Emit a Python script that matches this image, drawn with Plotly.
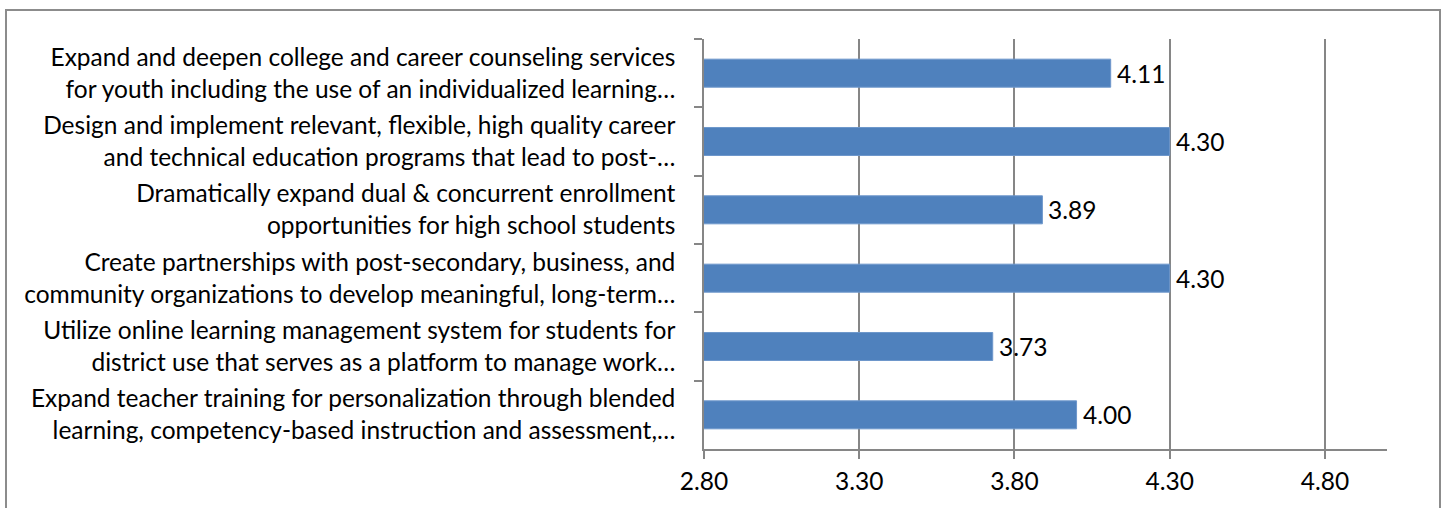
import plotly.graph_objects as go

categories = [
    "Expand and deepen college and career counseling services<br>for youth including the use of an individualized learning…",
    "Design and implement relevant, flexible, high quality career<br>and technical education programs that lead to post-…",
    "Dramatically expand dual & concurrent enrollment<br>opportunities for high school students",
    "Create partnerships with post-secondary, business, and<br>community organizations to develop meaningful, long-term…",
    "Utilize online learning management system for students for<br>district use that serves as a platform to manage work…",
    "Expand teacher training for personalization through blended<br>learning, competency-based instruction and assessment,…",
]
values = [4.11, 4.30, 3.89, 4.30, 3.73, 4.00]
x_range = [2.8, 5.0]
x_tick0 = 2.8
x_dtick = 0.5

W, H = 1447, 508
L, R, T, B = 704, 60, 39, 59
pw, ph = W - L - R, H - T - B

FONT = "Lato"
FS = 24.5
GRID = "#868686"

fig = go.Figure(go.Bar(
    y=categories, x=values, orientation="h",
    marker=dict(color="#4F81BD", line=dict(color="#6E97CB", width=1)),
    cliponaxis=False,
))

for c, v in zip(categories, values):
    fig.add_annotation(x=v, y=c, xref="x", yref="y", text=f"{v:.2f}",
                       showarrow=False, xanchor="left", yanchor="middle",
                       xshift=4, font=dict(family=FONT, size=FS, color="black"))

def px_to_paper_x(px):
    return (px - L) / pw

def px_to_paper_y(py):
    return (H - B - py) / ph

fig.add_shape(type="rect", xref="paper", yref="paper",
              x0=px_to_paper_x(6), x1=px_to_paper_x(1440),
              y0=px_to_paper_y(530), y1=px_to_paper_y(10),
              line=dict(color="#8C8C8C", width=2), fillcolor="rgba(0,0,0,0)",
              layer="below")

fig.update_layout(
    width=W, height=H,
    margin=dict(l=L, r=R, t=T, b=B, pad=0),
    paper_bgcolor="white", plot_bgcolor="white",
    bargap=0.59, showlegend=False,
    font=dict(family=FONT, size=FS, color="black"),
    xaxis=dict(range=x_range, tick0=x_tick0, dtick=x_dtick, tickformat=".2f",
               automargin=False,
               showgrid=True, gridcolor=GRID, gridwidth=1.5,
               showline=True, linecolor=GRID, linewidth=1.5,
               ticks="outside", ticklen=8, tickcolor=GRID, tickwidth=1.5,
               ticklabelstandoff=2,
               zeroline=False, tickfont=dict(family=FONT, size=FS, color="black")),
    yaxis=dict(autorange="reversed", automargin=False,
               showline=True, linecolor=GRID, linewidth=1.5,
               ticks="outside", tickson="boundaries", ticklen=8, tickcolor=GRID, tickwidth=1.5,
               showgrid=False, ticklabelstandoff=22,
               tickfont=dict(family=FONT, size=FS, color="black")),
)

fig.write_html("out.html", post_script="document.body.style.margin='0';",
               config={"displayModeBar": False})
